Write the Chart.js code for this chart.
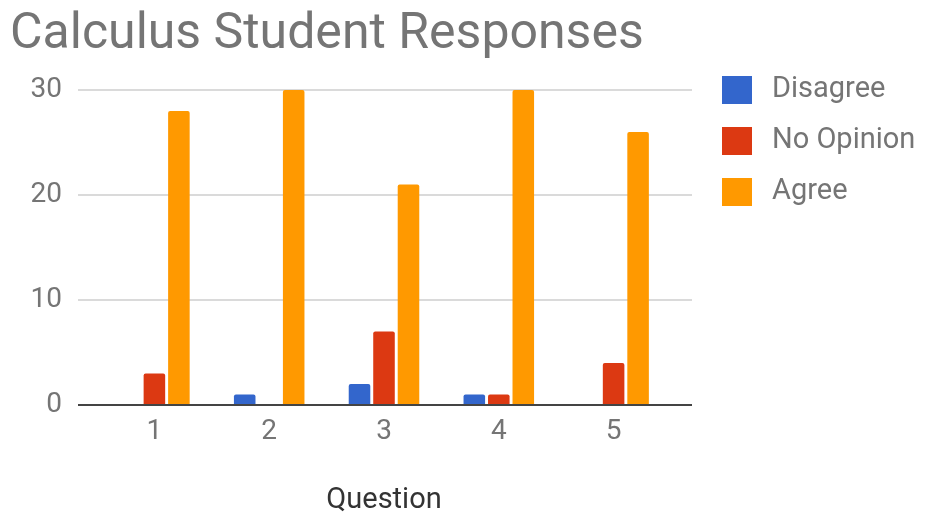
<!DOCTYPE html>
<html>
<head>
<meta charset="utf-8">
<script src="https://cdn.jsdelivr.net/npm/chart.js@4"></script>
<style>
  body { margin: 0; background: #fff; }
</style>
</head>
<body>
<canvas id="myChart" width="926" height="515"></canvas>
<script>
// Survey answers per question
var questions = ['1', '2', '3', '4', '5'];
var disagree = [0, 1, 2, 1, 0];
var noOpinion = [3, 0, 7, 1, 4];
var agree = [28, 30, 21, 30, 26];
var yTicks = [0, 10, 20, 30];

var gray = '#757575';
var fontName = 'Roboto';

// horizontal grid lines reach a little past the bar area on both sides
function gridLine(chart, value, color) {
  var ctx = chart.ctx, area = chart.chartArea;
  var py = Math.round(chart.scales.y.getPixelForValue(value));
  ctx.save();
  ctx.lineWidth = 2;
  ctx.strokeStyle = color;
  ctx.beginPath();
  ctx.moveTo(area.left - 19, py);
  ctx.lineTo(area.right + 21, py);
  ctx.stroke();
  ctx.restore();
}

var wideGrid = {
  id: 'wideGrid',
  beforeDatasetsDraw: function(chart) {
    yTicks.forEach(function(v) {
      if (v !== 0) gridLine(chart, v, '#dadada');
    });
  },
  afterDatasetsDraw: function(chart) {
    gridLine(chart, 0, '#444'); // dark baseline
  }
};

// square swatches with labels to the right of the plot
var sideLegend = {
  id: 'sideLegend',
  afterDraw: function(chart) {
    var ctx = chart.ctx;
    ctx.save();
    ctx.font = '29px ' + fontName;
    ctx.textBaseline = 'middle';
    chart.data.datasets.forEach(function(ds, i) {
      var top = 76 + i * 51;
      ctx.fillStyle = ds.backgroundColor;
      ctx.fillRect(722, top, 30, 28);
      ctx.fillStyle = gray;
      ctx.fillText(ds.label, 772, top + 14);
    });
    ctx.restore();
  }
};

var ctx = document.getElementById('myChart');
var myChart = new Chart(ctx, {
  type: 'bar',
  data: {
    labels: questions,
    datasets: [
      { label: 'Disagree', data: disagree, backgroundColor: '#3366cc' },
      { label: 'No Opinion', data: noOpinion, backgroundColor: '#dc3912' },
      { label: 'Agree', data: agree, backgroundColor: '#ff9900' }
    ]
  },
  options: {
    responsive: false,
    animation: false,
    layout: { padding: { left: 10, right: 255, top: 0, bottom: 0 } },
    datasets: {
      bar: { categoryPercentage: 0.64, barPercentage: 0.88, borderRadius: 2 }
    },
    plugins: {
      legend: { display: false },
      tooltip: { enabled: false },
      title: {
        display: true,
        text: 'Calculus Student Responses',
        align: 'start',
        color: gray,
        font: { family: fontName, size: 50, weight: 'normal', lineHeight: 1 },
        padding: { top: 10, bottom: 30 }
      }
    },
    scales: {
      x: {
        grid: { display: false, drawTicks: false },
        border: { display: false },
        ticks: { color: gray, padding: 10, font: { family: fontName, size: 28 } },
        title: {
          display: true,
          text: 'Question',
          color: '#333',
          padding: 0,
          font: { family: fontName, size: 29, lineHeight: 1 }
        },
        afterFit: function(scale) { scale.height = 110; }
      },
      y: {
        min: 0,
        max: 30,
        grid: { display: false, drawTicks: false },
        border: { display: false },
        ticks: { stepSize: 10, color: gray, padding: 35, font: { family: fontName, size: 28 } },
        afterFit: function(scale) { scale.width = 87; }
      }
    }
  },
  plugins: [wideGrid, sideLegend]
});
</script>
</body>
</html>
